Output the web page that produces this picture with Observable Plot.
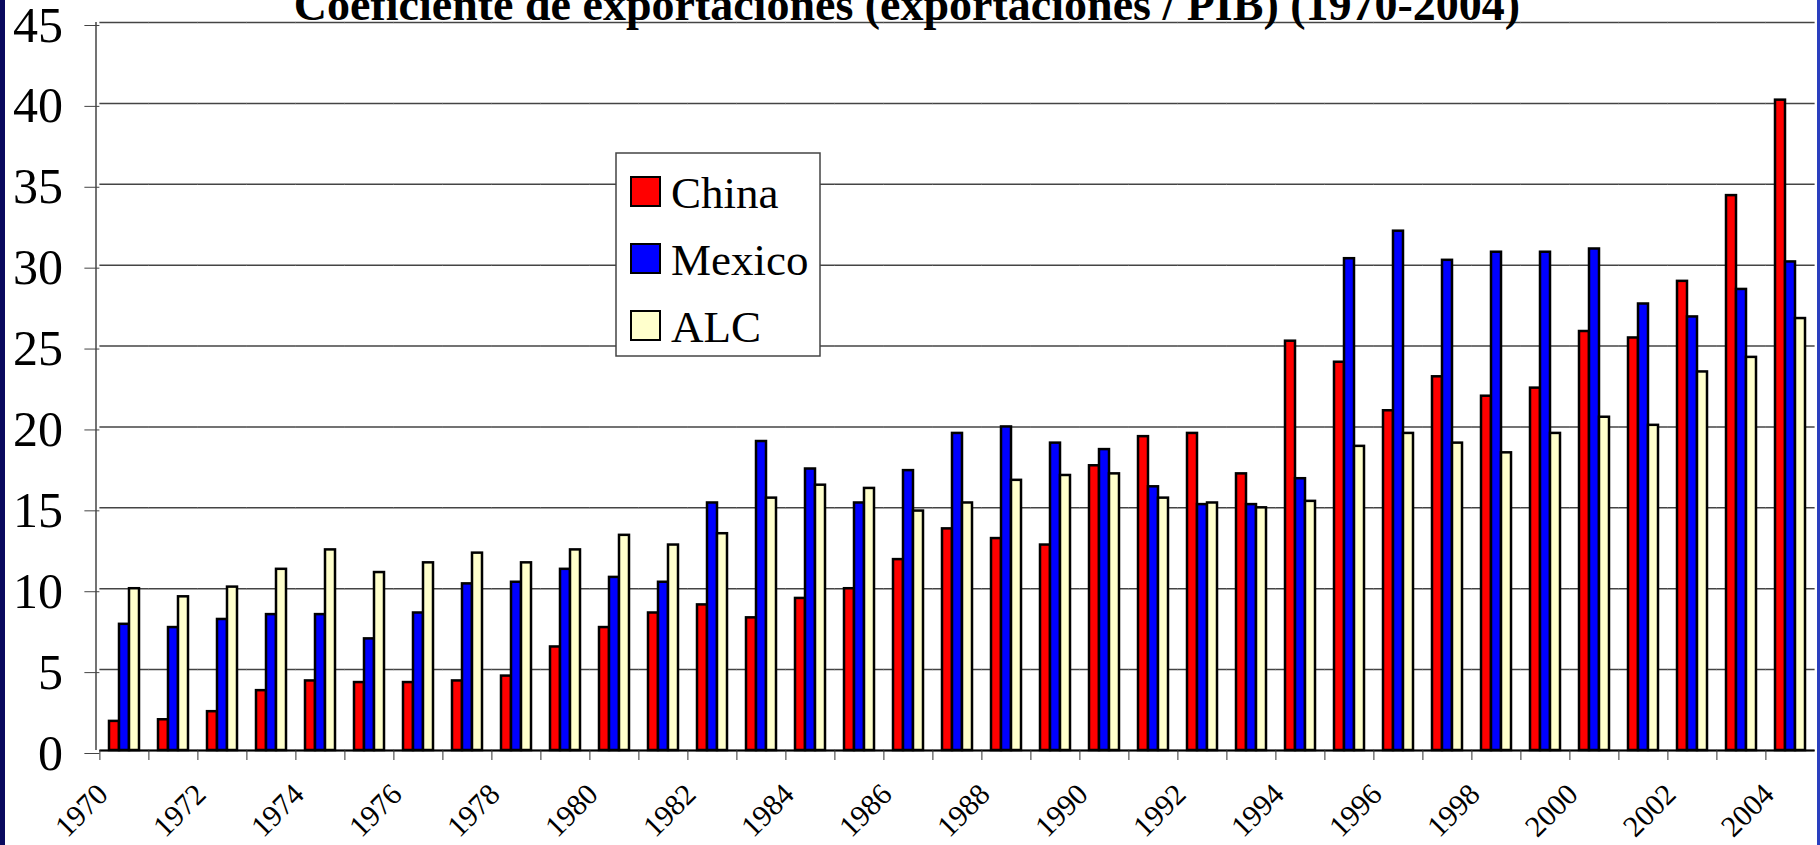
<!DOCTYPE html>
<html>
<head>
<meta charset="utf-8">
<script src="https://cdn.jsdelivr.net/npm/d3@7"></script>
<script src="https://cdn.jsdelivr.net/npm/@observablehq/plot@0.6"></script>
<style>
  html, body { margin: 0; padding: 0; background: #fff; }
  #chart { width: 1820px; height: 845px; overflow: hidden; }
  #chart svg { display: block; }
  #chart svg text { font-family: "Liberation Serif", "Times New Roman", serif !important; }
</style>
</head>
<body>
<div id="chart"></div>
<script>
const years = [1970,1971,1972,1973,1974,1975,1976,1977,1978,1979,1980,1981,1982,1983,1984,1985,1986,1987,1988,1989,1990,1991,1992,1993,1994,1995,1996,1997,1998,1999,2000,2001,2002,2003,2004];
const yearLabels = [1970,1972,1974,1976,1978,1980,1982,1984,1986,1988,1990,1992,1994,1996,1998,2000,2002,2004];
const china  = [1.8,1.9,2.4,3.7,4.3,4.2,4.2,4.3,4.6,6.4,7.6,8.5,9.0,8.2,9.4,10.0,11.8,13.7,13.1,12.7,17.6,19.4,19.6,17.1,25.3,24.0,21.0,23.1,21.9,22.4,25.9,25.5,29.0,34.3,40.2];
const mexico = [7.8,7.6,8.1,8.4,8.4,6.9,8.5,10.3,10.4,11.2,10.7,10.4,15.3,19.1,17.4,15.3,17.3,19.6,20.0,19.0,18.6,16.3,15.2,15.2,16.8,30.4,32.1,30.3,30.8,30.8,31.0,27.6,26.8,28.5,30.2];
const alc    = [10.0,9.5,10.1,11.2,12.4,11.0,11.6,12.2,11.6,12.4,13.3,12.7,13.4,15.6,16.4,16.2,14.8,15.3,16.7,17.0,17.1,15.6,15.3,15.0,15.4,18.8,19.6,19.0,18.4,19.6,20.6,20.1,23.4,24.3,26.7];
const seriesNames  = ["China", "Mexico", "ALC"];
const seriesColors = ["#ff0000", "#0000ff", "#ffffcc"];
const yTicks = [0,5,10,15,20,25,30,35,40,45];
const title = "Coeficiente de exportaciones (exportaciones / PIB) (1970-2004)";

const seriesValues = [china, mexico, alc];
const data = years.flatMap((yr, i) => seriesNames.map((s, k) => ({year: yr, series: s, value: seriesValues[k][i]})));

const W = 1820, H = 845, mL = 96, mR = 2, mT = 22, mB = 95;
const step = (W - mL - mR) / years.length;
const pIn = 0.35, pOut = pIn / 2;
const half = step * pIn / 2;
const serif = '"Liberation Serif", "Times New Roman", serif';

const plot = Plot.plot({
  width: W, height: H,
  marginLeft: mL, marginRight: mR, marginTop: mT, marginBottom: mB,
  style: {fontFamily: serif, background: "white", color: "black", overflow: "visible"},
  fx: {domain: years, paddingInner: pIn, paddingOuter: pOut, label: null},
  x: {domain: seriesNames, padding: 0, axis: null},
  y: {domain: [0, 45], label: null},
  color: {domain: seriesNames, range: seriesColors},
  marks: [
    Plot.gridY(yTicks, {stroke: "#444", strokeOpacity: 1, strokeWidth: 1.5, insetLeft: -half, insetRight: -half}),
    Plot.barY(data, {fx: "year", x: "series", y: "value", fill: "series", stroke: "black", strokeWidth: 2.5}),
    Plot.ruleY([0], {stroke: "black", strokeWidth: 2, insetLeft: -half, insetRight: -half}),
    Plot.axisY(yTicks, {tickSize: 15, tickPadding: 22, fontSize: 50, dx: -half, dy: 3, stroke: "#444", fill: "black", label: null}),
    Plot.axisFx({anchor: "bottom", tickSize: 10, dx: -step / 2, tickFormat: () => "", stroke: "#333", label: null}),
    Plot.axisFx({anchor: "bottom", tickSize: 0, tickRotate: -45, fontSize: 30, dx: -step / 2 + 3, dy: 27,
      tickFormat: d => yearLabels.includes(d) ? String(d) : "", fill: "black", label: null})
  ]
});

document.getElementById("chart").appendChild(plot);

const svg = d3.select(plot);
const y = plot.scale("y");
// left axis line
svg.append("line")
  .attr("x1", mL).attr("x2", mL)
  .attr("y1", y.apply(45)).attr("y2", y.apply(0))
  .attr("stroke", "#444").attr("stroke-width", 1.5);

// title
svg.append("text")
  .attr("x", 907).attr("y", 20)
  .attr("text-anchor", "middle")
  .attr("font-family", serif).attr("font-weight", "bold").attr("font-size", 46)
  .attr("fill", "black")
  .text(title);

// legend
const lg = svg.append("g").attr("transform", "translate(616,153)");
lg.append("rect").attr("width", 204).attr("height", 203)
  .attr("fill", "white").attr("stroke", "#444").attr("stroke-width", 1.5);
seriesNames.forEach((s, i) => {
  lg.append("rect").attr("x", 15).attr("y", 24 + 67 * i).attr("width", 29).attr("height", 29)
    .attr("fill", seriesColors[i]).attr("stroke", "black").attr("stroke-width", 2);
  lg.append("text").attr("x", 55).attr("y", 55 + 67 * i)
    .attr("text-anchor", "start")
    .attr("font-family", serif).attr("font-size", 45).attr("fill", "black").text(s);
});

// navy side borders
svg.append("rect").attr("x", 0).attr("y", 0).attr("width", 5).attr("height", H).attr("fill", "#0a0a5f");
svg.append("rect").attr("x", W - 3).attr("y", 0).attr("width", 3).attr("height", H).attr("fill", "#2a3fbf");
</script>
</body>
</html>
